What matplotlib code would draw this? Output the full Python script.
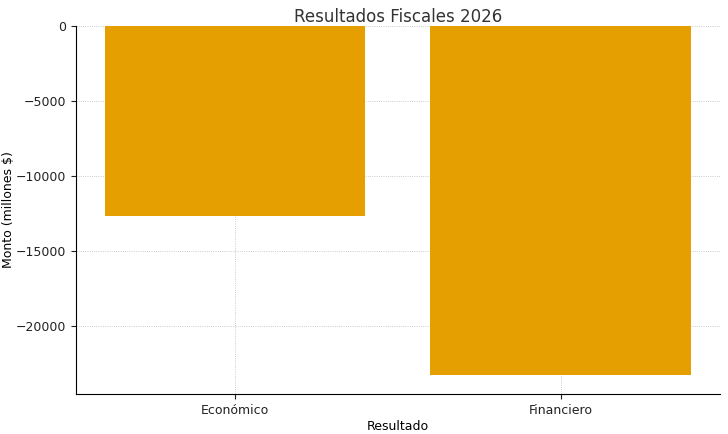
import matplotlib
matplotlib.use("Agg")
import matplotlib.pyplot as plt

categorias = ["Económico", "Financiero"]
montos = [-12650, -23300]

fig, ax = plt.subplots(figsize=(7.28, 4.34), dpi=100)
fig.subplots_adjust(left=0.104, right=0.989, top=0.94, bottom=0.092)

ax.bar(categorias, montos, width=0.8, color="#E69F00", zorder=2)

ax.set_title("Resultados Fiscales 2026", fontsize=12, color="#333333", pad=3)
ax.set_xlabel("Resultado", fontsize=9, labelpad=2)
ax.set_ylabel("Monto (millones $)", fontsize=9)
ax.yaxis.set_label_coords(-0.094, 0.5)
ax.tick_params(labelsize=9, colors="#222222")
ax.set_xlim(-0.49, 1.49)
ax.set_ylim(-24550, 0)
ax.grid(True, linestyle=":", linewidth=0.6, color="#bbbbbb", zorder=0)
ax.spines["top"].set_visible(False)
ax.spines["right"].set_visible(False)

plt.savefig("out.png", dpi=100)
